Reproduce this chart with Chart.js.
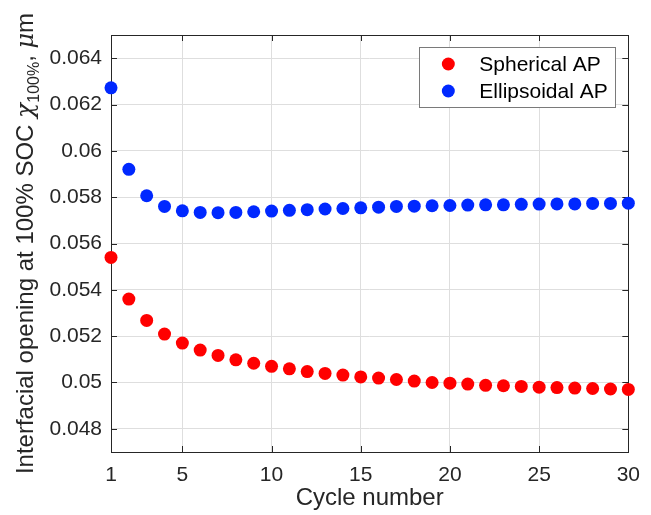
<!DOCTYPE html>
<html>
<head>
<meta charset="utf-8">
<script src="https://cdn.jsdelivr.net/npm/chart.js@4.4.1/dist/chart.umd.min.js"></script>
<style>
  html, body { margin: 0; padding: 0; background: #fff; }
  #wrap { width: 651px; height: 515px; }
</style>
</head>
<body>
<div id="wrap"><canvas id="c" width="651" height="515"></canvas></div>
<script>
const cycles = [1, 2, 3, 4, 5, 6, 7, 8, 9, 10, 11, 12, 13, 14, 15,
  16, 17, 18, 19, 20, 21, 22, 23, 24, 25, 26, 27, 28, 29, 30];

const spherical = [0.0554, 0.0536, 0.05268, 0.05209, 0.0517, 0.0514, 0.05117, 0.05098, 0.05083, 0.0507,
  0.05059, 0.05047, 0.05039, 0.05032, 0.05024, 0.05019, 0.05013, 0.05006, 0.05, 0.04997,
  0.04993, 0.04988, 0.04986, 0.04983, 0.0498, 0.04978, 0.04976, 0.04974, 0.04972, 0.0497];

const ellipsoidal = [0.06272, 0.0592, 0.05806, 0.0576, 0.05741, 0.05734, 0.05733, 0.05734, 0.05737, 0.0574,
  0.05743, 0.05746, 0.05749, 0.05751, 0.05754, 0.05757, 0.0576, 0.05761, 0.05763, 0.05764,
  0.05766, 0.05767, 0.05767, 0.05769, 0.0577, 0.05771, 0.05771, 0.05773, 0.05773, 0.05774];

const xTicks = [1, 5, 10, 15, 20, 25, 30];
const yTicks = [0.048, 0.05, 0.052, 0.054, 0.056, 0.058, 0.06, 0.062, 0.064];
const yTickLabels = ['0.048', '0.05', '0.052', '0.054', '0.056', '0.058', '0.06', '0.062', '0.064'];

const FONT = '"Liberation Sans", Arial, Helvetica, sans-serif';
const AXIS = '#262626';

function toPoints(ys) {
  return cycles.map((x, i) => ({ x: x, y: ys[i] }));
}

// box around the axes with inward ticks (matlab style)
const boxPlugin = {
  id: 'box',
  beforeDatasetsDraw(chart) {
    const { ctx, chartArea: a, scales } = chart;
    const len = 6;
    ctx.save();
    ctx.strokeStyle = AXIS;
    ctx.lineWidth = 1;
    ctx.beginPath();
    xTicks.forEach(t => {
      const px = Math.round(scales.x.getPixelForValue(t)) + 0.5;
      ctx.moveTo(px, a.bottom); ctx.lineTo(px, a.bottom - len);
      ctx.moveTo(px, a.top); ctx.lineTo(px, a.top + len);
    });
    yTicks.forEach(t => {
      const py = Math.round(scales.y.getPixelForValue(t)) + 0.5;
      ctx.moveTo(a.left, py); ctx.lineTo(a.left + len, py);
      ctx.moveTo(a.right, py); ctx.lineTo(a.right - len, py);
    });
    ctx.stroke();
    ctx.strokeRect(Math.round(a.left) + 0.5, Math.round(a.top) + 0.5,
      Math.round(a.right - a.left), Math.round(a.bottom - a.top));
    ctx.restore();
  }
};

// axis titles, legend
const labelPlugin = {
  id: 'labels',
  afterDraw(chart) {
    const { ctx, chartArea: a } = chart;
    ctx.save();
    ctx.fillStyle = AXIS;

    // x title
    ctx.font = '24px ' + FONT;
    ctx.textAlign = 'center';
    ctx.textBaseline = 'alphabetic';
    ctx.fillText('Cycle number', (a.left + a.right) / 2, 505);

    // y title with subscript
    const parts = [
      { t: 'Interfacial opening at 100% SOC ', f: '24px ' + FONT, dy: 0 },
      { t: '\u03C7', f: 'italic 25px "DejaVu Serif", serif', dy: 0 },
      { t: '100%', f: '16px ' + FONT, dy: 6 },
      { t: ', ', f: '24px ' + FONT, dy: 0 },
      { t: '\u03BC', f: 'italic 24px "DejaVu Serif", serif', dy: 0 },
      { t: 'm', f: '24px ' + FONT, dy: 0 }
    ];
    let total = 0;
    parts.forEach(p => { ctx.font = p.f; p.w = ctx.measureText(p.t).width; total += p.w; });
    ctx.translate(33, (a.top + a.bottom) / 2);
    ctx.rotate(-Math.PI / 2);
    ctx.textAlign = 'left';
    let x = -total / 2;
    parts.forEach(p => {
      ctx.font = p.f;
      ctx.fillText(p.t, x, p.dy);
      x += p.w;
    });
    ctx.restore();

    // legend
    ctx.save();
    const lr = a.right - 13, lt = a.top + 12, lw = 196, lh = 60;
    ctx.fillStyle = '#fff';
    ctx.fillRect(lr - lw, lt, lw, lh);
    ctx.strokeStyle = '#7a7a7a';
    ctx.lineWidth = 1;
    ctx.strokeRect(Math.round(lr - lw) + 0.5, Math.round(lt) + 0.5, lw, lh);
    chart.data.datasets.forEach((ds, i) => {
      const cy = lt + 17 + i * 27;
      ctx.fillStyle = ds.backgroundColor;
      ctx.beginPath();
      ctx.arc(lr - lw + 29, cy, 6.5, 0, Math.PI * 2);
      ctx.fill();
      ctx.fillStyle = '#000';
      ctx.font = '21px ' + FONT;
      ctx.textAlign = 'left';
      ctx.textBaseline = 'middle';
      ctx.fillText(ds.label, lr - lw + 60, cy + 1);
    });
    ctx.restore();
  }
};

new Chart(document.getElementById('c'), {
  type: 'scatter',
  data: {
    datasets: [
      {
        label: 'Spherical AP',
        data: toPoints(spherical),
        backgroundColor: '#ff0000',
        borderWidth: 0,
        pointRadius: 6.5,
        clip: false
      },
      {
        label: 'Ellipsoidal AP',
        data: toPoints(ellipsoidal),
        backgroundColor: '#0028ff',
        borderWidth: 0,
        pointRadius: 6.5,
        clip: false
      }
    ]
  },
  options: {
    responsive: false,
    animation: false,
    layout: { padding: { top: 35, right: 16, left: 0, bottom: 0 } },
    plugins: {
      legend: { display: false },
      tooltip: { enabled: false }
    },
    scales: {
      x: {
        type: 'linear',
        min: 1,
        max: 30,
        afterBuildTicks: s => { s.ticks = xTicks.map(v => ({ value: v })); },
        afterFit: s => { s.height = 63; },
        grid: { color: '#dedede', drawTicks: false },
        border: { display: false },
        ticks: {
          padding: 11,
          color: AXIS,
          font: { family: FONT, size: 21 },
          maxRotation: 0,
          callback: v => String(v)
        }
      },
      y: {
        type: 'linear',
        min: 0.047,
        max: 0.065,
        afterBuildTicks: s => { s.ticks = yTicks.map(v => ({ value: v })); },
        afterFit: s => { s.width = 111; },
        grid: { color: '#dedede', drawTicks: false },
        border: { display: false },
        ticks: {
          padding: 9,
          color: AXIS,
          font: { family: FONT, size: 21 },
          callback: (v, i) => yTickLabels[i]
        }
      }
    }
  },
  plugins: [boxPlugin, labelPlugin]
});
</script>
</body>
</html>
